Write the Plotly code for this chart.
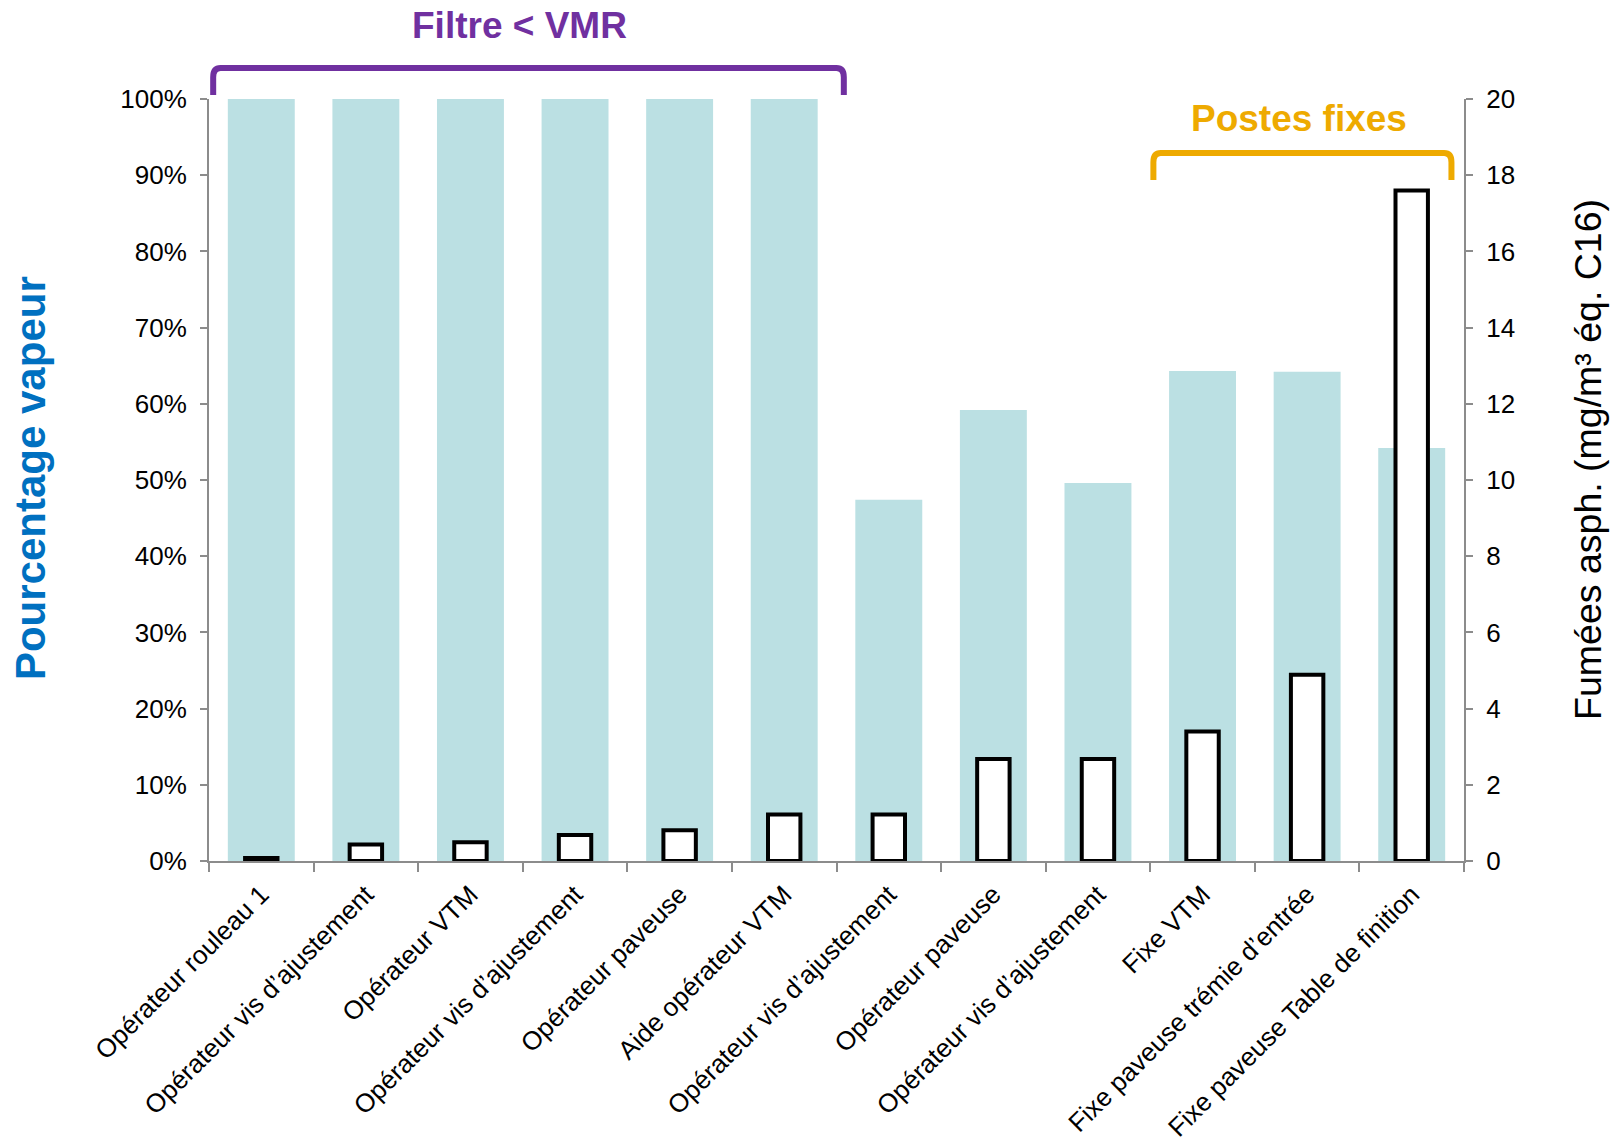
import plotly.graph_objects as go

categories = [
    "Opérateur rouleau 1",
    "Opérateur vis d’ajustement",
    "Opérateur VTM",
    "Opérateur vis d’ajustement",
    "Opérateur paveuse",
    "Aide opérateur VTM",
    "Opérateur vis d’ajustement",
    "Opérateur paveuse",
    "Opérateur vis d’ajustement",
    "Fixe VTM",
    "Fixe paveuse trémie d’entrée",
    "Fixe paveuse Table de finition",
]
pct_vapeur = [1.0, 1.0, 1.0, 1.0, 1.0, 1.0, 0.474, 0.592, 0.496, 0.643, 0.642, 0.542]
fumees = [0.08, 0.43, 0.49, 0.68, 0.81, 1.22, 1.22, 2.68, 2.68, 3.4, 4.89, 17.6]
left_ticks = [0, 0.1, 0.2, 0.3, 0.4, 0.5, 0.6, 0.7, 0.8, 0.9, 1.0]
right_ticks = [0, 2, 4, 6, 8, 10, 12, 14, 16, 18, 20]

xs = list(range(len(categories)))
FONT = "Liberation Sans, Arial, sans-serif"
GRAY = "#8c8c8c"

fig = go.Figure()
fig.add_trace(go.Bar(x=xs, y=pct_vapeur, width=0.64, marker=dict(color="#BBE0E3", line=dict(width=0)),
                     yaxis="y", showlegend=False))
fig.add_trace(go.Bar(x=xs, y=fumees, width=0.31,
                     marker=dict(color="white", line=dict(color="black", width=4)),
                     yaxis="y2", showlegend=False))

fig.update_layout(
    width=1614, height=1147,
    margin=dict(l=209, r=150, t=99, b=286),
    paper_bgcolor="white", plot_bgcolor="white",
    barmode="overlay",
    font=dict(family=FONT, size=26, color="black"),
    xaxis=dict(
        range=[-0.5, 11.5], tickmode="array", tickvals=xs, ticktext=categories,
        tickangle=-45, ticks="", showline=True, linecolor=GRAY, linewidth=2,
        showgrid=False, zeroline=False, tickfont=dict(size=26), ticklabelstandoff=6,
        automargin=False,
        minor=dict(tickmode="array", tickvals=[i - 0.5 for i in range(13)],
                   ticks="outside", ticklen=9, tickcolor=GRAY, tickwidth=2, showgrid=False),
    ),
    yaxis=dict(
        range=[0, 1], tickmode="array", tickvals=left_ticks, tickformat=".0%",
        ticks="outside", ticklen=7, tickcolor=GRAY, tickwidth=2, ticklabelstandoff=8,
        showline=True, linecolor=GRAY, linewidth=2, showgrid=False, zeroline=False,
        tickfont=dict(size=26), automargin=False,
    ),
    yaxis2=dict(
        range=[0, 20], tickmode="array", tickvals=right_ticks, overlaying="y", side="right",
        ticks="outside", ticklen=7, tickcolor=GRAY, tickwidth=2, ticklabelstandoff=8,
        showline=True, linecolor=GRAY, linewidth=2, showgrid=False, zeroline=False,
        tickfont=dict(size=26), automargin=False,
    ),
)

annotations = [
    dict(text="<b>Pourcentage vapeur</b>", xref="paper", yref="paper", x=-0.1426, y=0.5026,
         xanchor="center", yanchor="middle", textangle=-90, showarrow=False,
         font=dict(size=42, color="#0070C0", family=FONT)),
    dict(text="Fumées asph. (mg/m³ éq. C16)", xref="paper", yref="paper", x=1.0988, y=0.5276,
         xanchor="center", yanchor="middle", textangle=-90, showarrow=False,
         font=dict(size=37.5, color="black", family=FONT)),
    dict(text="<b>Filtre &lt; VMR</b>", xref="x", yref="paper", x=2.47, y=1.097,
         xanchor="center", yanchor="middle", showarrow=False,
         font=dict(size=37, color="#7030A0", family=FONT)),
    dict(text="<b>Postes fixes</b>", xref="x", yref="paper", x=9.92, y=0.975,
         xanchor="center", yanchor="middle", showarrow=False,
         font=dict(size=37, color="#EEAA00", family=FONT)),
]
fig.update_layout(annotations=annotations)


def bracket(x0, x1, ytop, ybot, color):
    rx = 0.07
    ry = 0.012
    path = (f"M {x0},{ybot} L {x0},{ytop - ry} Q {x0},{ytop} {x0 + rx},{ytop} "
            f"L {x1 - rx},{ytop} Q {x1},{ytop} {x1},{ytop - ry} L {x1},{ybot}")
    return dict(type="path", path=path, xref="x", yref="paper",
                line=dict(color=color, width=6), layer="above")


fig.update_layout(shapes=[
    bracket(-0.46, 5.57, 1.0407, 1.0052, "#7030A0"),
    bracket(8.53, 11.38, 0.929, 0.8937, "#EEAA00"),
])

fig.write_html("out.html")
